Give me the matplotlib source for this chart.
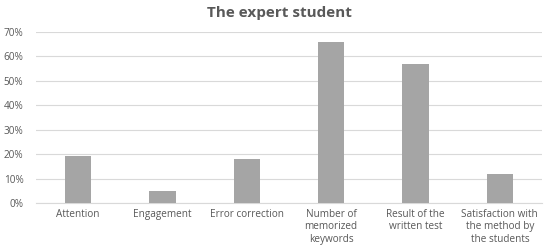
import matplotlib.pyplot as plt
from matplotlib.ticker import PercentFormatter

# data
categories = ['Attention', 'Engagement', 'Error correction',
              'Number of\nmemorized\nkeywords', 'Result of the\nwritten test',
              'Satisfaction with\nthe method by\nthe students']
values = [19.3, 5.0, 18.2, 65.8, 57.0, 12.0]
y_ticks = [0, 10, 20, 30, 40, 50, 60, 70]

plt.rcParams['font.family'] = ['Open Sans', 'DejaVu Sans']
text_color = '#595959'

fig = plt.figure(figsize=(5.5, 2.46), dpi=100)
ax = fig.add_axes([36 / 550, 1 - 203 / 246, 506 / 550, 171 / 246])

x = range(len(categories))
ax.bar(x, values, width=0.31, color='#A5A5A5', zorder=3)

ax.set_xlim(-0.5, len(categories) - 0.5)
ax.set_ylim(0, 70)
ax.set_yticks(y_ticks)
ax.yaxis.set_major_formatter(PercentFormatter(decimals=0))
ax.set_xticks(list(x))
ax.set_xticklabels(categories, fontsize=7.2, color=text_color, linespacing=1.2)
ax.tick_params(axis='y', labelsize=7.2, labelcolor=text_color, length=0, pad=9)
ax.tick_params(axis='x', length=0, pad=4)

ax.grid(axis='y', color='#D9D9D9', linewidth=0.8, zorder=0)
for side in ['top', 'right', 'left']:
    ax.spines[side].set_visible(False)
ax.spines['bottom'].set_color('#D9D9D9')
ax.spines['bottom'].set_linewidth(0.8)

fig.text(279 / 550, 1 - 13 / 246, 'The expert student', ha='center', va='center',
         fontsize=11, fontweight='bold', color=text_color)

fig.savefig('out.png', dpi=100)
